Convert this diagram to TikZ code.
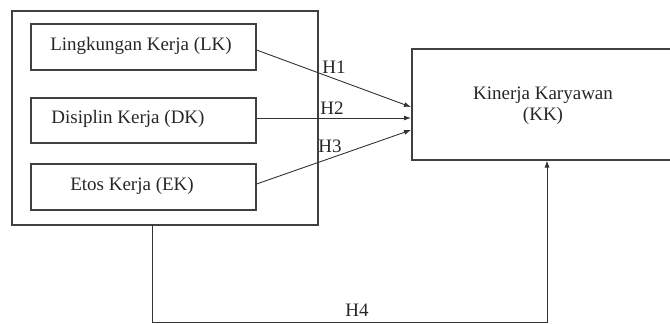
\documentclass[tikz,border=0pt]{standalone}
\usepackage{fontspec}
\setmainfont{Liberation Serif}
\usetikzlibrary{arrows.meta}
\begin{document}
\begin{tikzpicture}[x=1pt,y=-1pt,
  box/.style={draw=black!75,line width=1.1pt,inner sep=0pt},
  lbl/.style={font=\fontsize{19}{21}\selectfont,text=black!85},
  conn/.style={draw=black!80,line width=0.9pt},
  arr/.style={conn,-{Latex[length=7pt,width=5pt]}}]
\useasboundingbox (0,0) rectangle (670,324);
\path[box,draw] (12,11) rectangle (318,225);
\node[box,minimum width=225pt,minimum height=46pt] (lk) at (143.5,47) {};
\node[box,minimum width=225pt,minimum height=45pt] (dk) at (143.5,120.5) {};
\node[box,minimum width=225pt,minimum height=46pt] (ek) at (143.5,187) {};
\node[lbl] at (141,46) {Lingkungan Kerja (LK)};
\node[lbl] at (128,119) {Disiplin Kerja (DK)};
\node[lbl] at (132,186) {Etos Kerja (EK)};
\node[box,minimum width=262pt,minimum height=111pt] (kk) at (543,104.5) {};
\node[lbl,align=center] at (543,106) {Kinerja Karyawan\\(KK)};
\coordinate (t1) at (411,107);
\coordinate (t2) at (411,118);
\coordinate (t3) at (411,130);
\draw[arr] (lk.east |- 0,50) -- (t1);
\draw[arr] (dk.east |- 0,118) -- (t2);
\draw[arr] (ek.east |- 0,184) -- (t3);
\node[lbl] at (334,67) {H1};
\node[lbl] at (332,108) {H2};
\node[lbl] at (330,146) {H3};
\coordinate (o) at (152,225);
\coordinate (b1) at (152,322);
\coordinate (b2) at (547,322);
\draw[arr] (o) -- (b1) -- (b2) -- (kk.south -| b2);
\node[lbl] at (357,310) {H4};
\end{tikzpicture}
\end{document}
